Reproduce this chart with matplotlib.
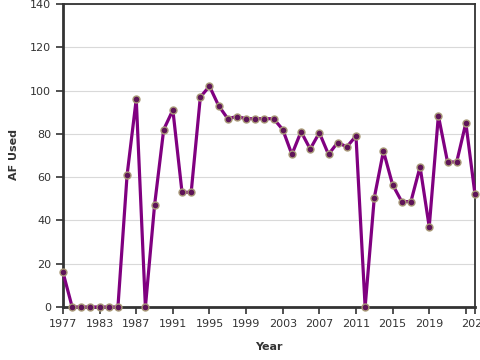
import matplotlib
matplotlib.use("Agg")
import matplotlib.pyplot as plt

years = list(range(1977, 2023))
af_used = [16, 0, 0, 0, 0, 0, 0, 61, 96, 0, 47, 82, 91, 53, 53, 97, 102, 93, 87, 88,
           87, 87, 87, 87, 82, 70.5, 81, 73, 80.5, 70.5, 76, 74, 79, 0, 50.5, 72, 56.5,
           48.7, 48.7, 64.8, 37, 88.4, 67, 67, 85, 52]

tick_pos = [1977, 1981, 1985, 1989, 1993, 1997, 2001, 2005, 2009, 2013, 2017, 2021, 2022]
tick_labels = ["1977", "1983", "1987", "1991", "1995", "1999", "2003", "2007",
               "2011", "2015", "2019", "", "2023"]
y_ticks = [0, 20, 40, 60, 80, 100, 120, 140]

fig = plt.figure(figsize=(4.8, 3.6), dpi=100)
ax = fig.add_axes([63/480, 1-307/360, (475-63)/480, (307-4)/360])

ax.plot(years, af_used, color="#800080", linewidth=2.3, zorder=3,
        marker="o", markersize=5, markerfacecolor="#5e1458",
        markeredgecolor="#a99a78", markeredgewidth=1.0, clip_on=False)

ax.set_xlim(1977, 2022)
ax.set_ylim(0, 140)
ax.set_xticks(tick_pos)
ax.set_xticklabels(tick_labels)
ax.set_yticks(y_ticks)
ax.yaxis.grid(True, color="#d9d9d9", linewidth=0.8)
ax.set_axisbelow(True)

for s in ["left", "bottom"]:
    ax.spines[s].set_linewidth(2.0)
    ax.spines[s].set_color("#333333")
for s in ["top", "right"]:
    ax.spines[s].set_linewidth(1.3)
    ax.spines[s].set_color("#333333")

ax.tick_params(axis="both", labelsize=8, colors="#333333", length=5, width=1.2)

fig.text(269/480, 1-347/360, "Year", ha="center", va="center",
         fontsize=8, fontweight="bold", color="#333333")
fig.text(14/480, 1-155/360, "AF Used", ha="center", va="center", rotation=90,
         fontsize=8, fontweight="bold", color="#333333")

fig.savefig("out.png", dpi=100)
